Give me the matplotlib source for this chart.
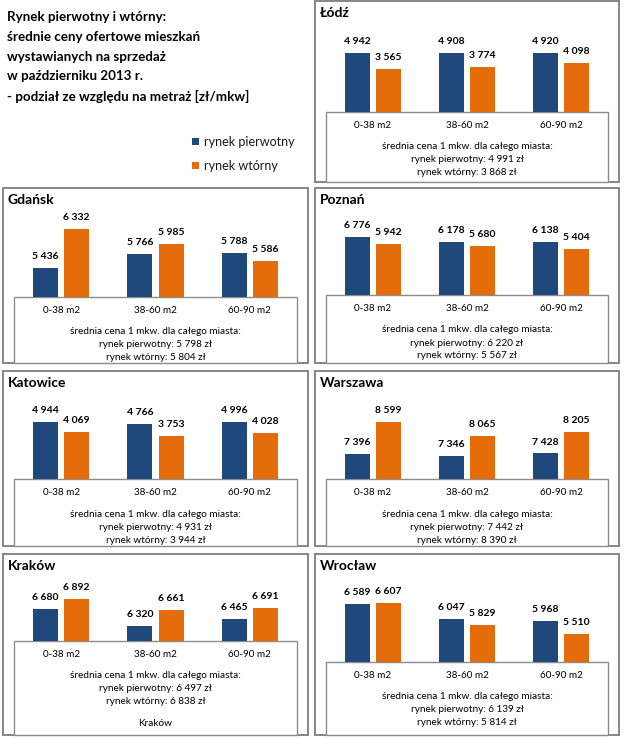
import matplotlib
matplotlib.use("Agg")
import matplotlib.pyplot as plt
from matplotlib.patches import Rectangle

plt.rcParams['font.family'] = ['Lato', 'DejaVu Sans']

# ---------------- data ----------------
categories = ['0-38 m2', '38-60 m2', '60-90 m2']
series_names = ['rynek pierwotny', 'rynek wtórny']
cities = ['Łódź', 'Gdańsk', 'Poznań', 'Katowice', 'Warszawa', 'Kraków', 'Wrocław']

primary_lodz = [4942, 4908, 4920]
secondary_lodz = [3565, 3774, 4098]
primary_gdansk = [5436, 5766, 5788]
secondary_gdansk = [6332, 5985, 5586]
primary_poznan = [6776, 6178, 6138]
secondary_poznan = [5942, 5680, 5404]
primary_katowice = [4944, 4766, 4996]
secondary_katowice = [4069, 3753, 4028]
primary_warszawa = [7396, 7346, 7428]
secondary_warszawa = [8599, 8065, 8205]
primary_krakow = [6680, 6320, 6465]
secondary_krakow = [6892, 6661, 6691]
primary_wroclaw = [6589, 6047, 5968]
secondary_wroclaw = [6607, 5829, 5510]

avg_primary = [4991, 5798, 6220, 4931, 7442, 6497, 6139]
avg_secondary = [3868, 5804, 5567, 3944, 8390, 6838, 5814]

primary = [primary_lodz, primary_gdansk, primary_poznan, primary_katowice,
           primary_warszawa, primary_krakow, primary_wroclaw]
secondary = [secondary_lodz, secondary_gdansk, secondary_poznan, secondary_katowice,
             secondary_warszawa, secondary_krakow, secondary_wroclaw]

title_lines = ['Rynek pierwotny i wtórny:',
               'średnie ceny ofertowe mieszkań',
               'wystawianych na sprzedaż',
               'w październiku 2013 r.',
               '- podział ze względu na metraż [zł/mkw]']

# ---------------- layout (pixels) ----------------
W, H = 624, 738
# panel: (left, top, right, bottom, inner box top)
panels = [
    (315, 1, 619, 182, 111.7),
    (3, 188, 308, 363, 296.7),
    (315, 188, 619, 363, 295.0),
    (3, 371, 308, 546, 479.3),
    (315, 371, 619, 546, 479.3),
    (3, 554, 308, 735, 640.7),
    (315, 554, 619, 735, 661.7),
]
# value axis range for each panel (Excel auto-scales differ per chart)
y_ranges = [(0, 9281), (4759, 7295), (0, 12442), (0, 9393),
            (6476, 10468), (6012, 7828), (4500, 8387)]

BLUE = '#1F497D'
ORANGE = '#E46C0A'
BORDER = '#868686'
TEXT = '#000000'

def fmt(v):
    return f"{v:,}".replace(',', ' ')

fig = plt.figure(figsize=(W / 100, H / 100), dpi=100)
bg = fig.add_axes([0, 0, 1, 1])
bg.set_xlim(0, W)
bg.set_ylim(H, 0)
bg.axis('off')

# title block
for i, line in enumerate(title_lines):
    bg.text(7, 17 + i * 19.8, line, fontsize=9.6, fontweight='bold',
            ha='left', va='center', color=TEXT)

# legend
for i, (name, col) in enumerate(zip(series_names, [BLUE, ORANGE])):
    yc = 141.7 + i * 24
    bg.add_patch(Rectangle((192, yc - 3.5), 7, 7, facecolor=col, edgecolor='none'))
    bg.text(204, yc, name, fontsize=9, ha='left', va='center', color='#1a1a1a')

bw = 0.265
gap = 0.064
for k, (city, (L, T, R, B, bt)) in enumerate(zip(cities, panels)):
    # panel frame
    bg.add_patch(Rectangle((L, T), R - L, B - T, facecolor='white',
                           edgecolor=BORDER, lw=1.4))
    bg.text(L + 5, T + 12, city, fontsize=10, fontweight='bold',
            ha='left', va='center', color=TEXT)
    il = L + 11
    ir = R - 11
    # inner box
    bg.add_patch(Rectangle((il, bt), ir - il, B - bt, facecolor='white',
                           edgecolor='#8c8c8c', lw=1.0, zorder=3))
    cx = (il + ir) / 2
    catw = (ir - il) / 3
    for j, c in enumerate(categories):
        bg.text(il + catw * (j + 0.5), bt + 13.5, c, fontsize=7.1, ha='center',
                va='center', color=TEXT, zorder=4)
    bg.text(cx, bt + 35, 'średnia cena 1 mkw. dla całego miasta:', fontsize=7.2,
            ha='center', va='center', color=TEXT, zorder=4)
    bg.text(cx, bt + 48, f'rynek pierwotny: {fmt(avg_primary[k])} zł', fontsize=7.2,
            ha='center', va='center', color=TEXT, zorder=4)
    bg.text(cx, bt + 61, f'rynek wtórny: {fmt(avg_secondary[k])} zł', fontsize=7.2,
            ha='center', va='center', color=TEXT, zorder=4)
    if city == 'Kraków':
        bg.text(cx, bt + 82.6, 'Kraków', fontsize=7.2, ha='center', va='center',
                color=TEXT, zorder=4)

    # bar axes: from inner box top up to panel top
    ax = fig.add_axes([il / W, 1 - bt / H, (ir - il) / W, (bt - T) / H])
    ax.patch.set_alpha(0)
    ax.set_xlim(-0.5, 2.5)
    ax.set_ylim(*y_ranges[k])
    ax.axis('off')
    xs = list(range(len(categories)))
    off = bw / 2 + gap / 2
    b1 = ax.bar([x - off for x in xs], primary[k], width=bw, color=BLUE)
    b2 = ax.bar([x + off for x in xs], secondary[k], width=bw, color=ORANGE)
    for bars, vals in ((b1, primary[k]), (b2, secondary[k])):
        for rect, v in zip(bars, vals):
            ax.annotate(fmt(v), (rect.get_x() + rect.get_width() / 2, v),
                        xytext=(0, 5), textcoords='offset points',
                        ha='center', va='bottom', fontsize=7.5,
                        fontweight='bold', color=TEXT, annotation_clip=False)

fig.savefig('out.png', dpi=100)
